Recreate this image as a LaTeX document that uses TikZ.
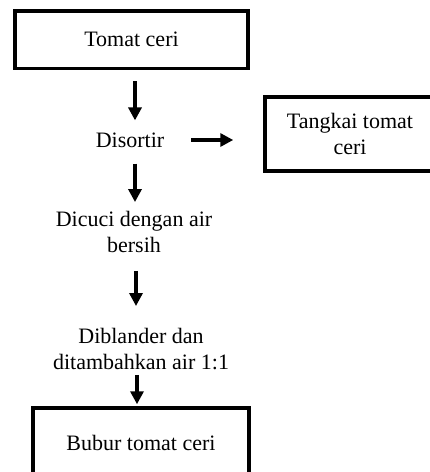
\documentclass[tikz,border=0pt]{standalone}
\usepackage{fontspec}
\setmainfont{Liberation Serif}
\usetikzlibrary{arrows.meta}
\begin{document}
\begin{tikzpicture}[x=1pt,y=-1pt,
  box/.style={draw,line width=3.5pt,rectangle,inner sep=0pt,align=center,font=\fontsize{22}{26}\selectfont},
  txt/.style={inner sep=0pt,align=center,font=\fontsize{22}{26}\selectfont},
  flow/.style={line width=4pt,-{Triangle[width=13pt,length=13pt]}}]
\useasboundingbox (0,0) rectangle (430,472);
\clip (0,0) rectangle (430,472);
\node[box,minimum width=233pt,minimum height=57.5pt] (top) at (131.5,39.5) {Tomat ceri};
\node[txt] (sort) at (130,140) {Disortir};
\node[box,minimum width=170pt,minimum height=74pt] (stem) at (350,134) {Tangkai tomat\\ceri};
\node[txt] (wash) at (134,232) {Dicuci dengan air\\bersih};
\node[txt] (blend) at (141,349) {Diblander dan\\ditambahkan air 1:1};
\node[box,minimum width=216pt,minimum height=70pt] (pulp) at (141,443) {Bubur tomat ceri};
\draw[flow,shorten <=11pt,shorten >=12pt] (top.south -| 135,0) -- (sort.north -| 135,0);
\draw[flow,shorten <=27pt,shorten >=30pt] (sort.east) -- (stem.west |- sort.east);
\draw[flow,shorten <=16pt,shorten >=9pt] (sort.south -| 135,0) -- (wash.north -| 135,0);
\draw[flow,shorten <=18pt,shorten >=22pt] (wash.south -| 136,0) -- (blend.north -| 136,0);
\draw[flow,shorten <=5pt,shorten >=2pt] (blend.south -| 137,0) -- (pulp.north -| 137,0);
\end{tikzpicture}
\end{document}
